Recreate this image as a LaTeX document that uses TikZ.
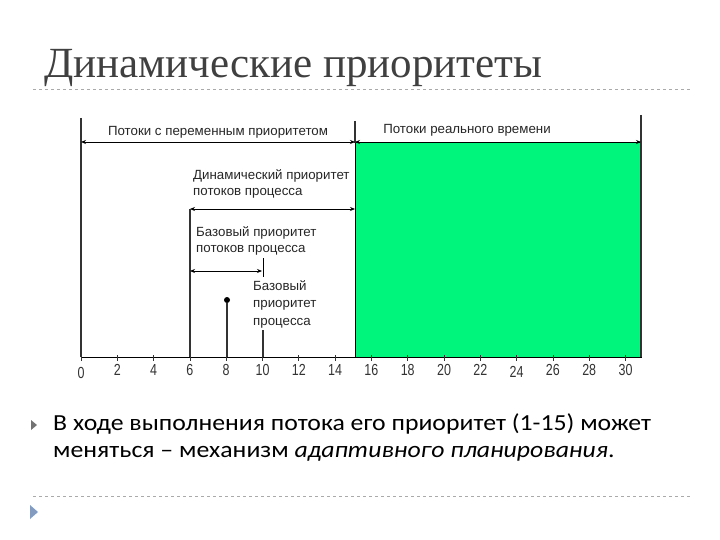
\documentclass[tikz,border=0pt]{standalone}
\usepackage{fontspec}
\setmainfont{Liberation Serif}
\newfontfamily\diagfont{Liberation Sans}
\newfontfamily\tickfont[FakeStretch=0.78]{Liberation Sans}
\newfontfamily\bodyfont[FakeStretch=1.12]{Carlito}
\usetikzlibrary{arrows.meta}
\definecolor{rtgreen}{RGB}{0,245,125}
\definecolor{titlegray}{RGB}{64,64,64}
\definecolor{dashgray}{RGB}{170,170,170}
\definecolor{bulletblue}{RGB}{130,155,190}
\tikzset{
  dimline/.style={line width=0.9pt, {Stealth[length=5pt,width=4pt]}-{Stealth[length=5pt,width=4pt]}},
  vline/.style={line width=1.3pt, draw=black!80},
  lbl/.style={font=\diagfont\fontsize{13.3}{16}\selectfont, inner sep=0pt, align=left, text=black!85},
  tick/.style={font=\tickfont\fontsize{16}{16}\selectfont, inner sep=0pt, text=black!80},
  sep/.style={draw=dashgray, dashed, line width=0.6pt},
  bullet/.style={fill=#1, draw=none}
}
\begin{document}
\begin{tikzpicture}[x=1pt,y=-1pt]
\useasboundingbox (0,0) rectangle (720,540);
% title
\node[anchor=base west, inner sep=0pt, text=titlegray, font=\fontsize{43}{46}\selectfont] (title) at (44,78) {Динамические приоритеты};
\coordinate (s1a) at (33,89); \coordinate (s1b) at (690,89);
\draw[sep] (s1a) -- (s1b);
% diagram
\coordinate (o) at (81,357);
\coordinate (axend) at (641,357);
\fill[rtgreen] (355,143) rectangle (641,357);
\draw[line width=1pt] (355,143) rectangle (641,357);
\draw[vline] (81,118) -- (o);
\draw[line width=1pt] (o) -- (axend);
\draw[vline] (641,115) -- (641,357);
\draw[vline] (355,121) -- (355,143);
% ticks and labels
\foreach \v in {0,2,...,30}{
  \draw[black!80, line width=0.8pt] ({81+18.15*\v},355) -- ({81+18.15*\v},361);
}
\foreach \v/\dy in {0/3,2/0,4/0,6/0,8/0,10/0,12/0,14/0,16/0,18/0,20/0,22/0,24/2,26/0,28/0,30/0}{
  \node[tick, anchor=base] (t\v) at ({81+18.15*\v},{375+\dy}) {\v};
}
% top arrows
\coordinate (a0) at (81,142); \coordinate (a15) at (355,142); \coordinate (a31) at (641,142);
\draw[dimline] (a0) -- (a15);
\draw[dimline] (a15) -- (a31);
\node[lbl, anchor=base] (l1) at (218,136) {Потоки с переменным приоритетом};
\node[lbl, anchor=base] (l2) at (467,134) {Потоки реального времени};
% dynamic priority
\node[lbl, anchor=base west] (l3) at (193,196) {Динамический приоритет\\потоков процесса};
\coordinate (d6) at (190,209); \coordinate (d15) at (355,209);
\draw[dimline] (d6) -- (d15);
\draw[vline] (d6) -- (190,357);
% base thread priority
\node[lbl, anchor=base west] (l4) at (196,252) {Базовый приоритет\\потоков процесса};
\coordinate (b6) at (190,271); \coordinate (b10) at (262,271);
\draw[dimline] (b6) -- (b10);
\draw[line width=0.9pt] (263,258) -- (263,277);
% base process priority
\node[lbl, anchor=base west, font=\diagfont\fontsize{13.3}{17.5}\selectfont] (l5) at (253,325) {Базовый\\приоритет\\процесса};
\node[circle, fill=black, inner sep=0pt, minimum size=6pt] (dot) at (227,300) {};
\draw[vline] (dot) -- (227,357);
\draw[vline] (263,330) -- (263,357);
% bullet text
\fill[bullet=black!55] (31,420) -- (37,425) -- (31,430) -- cycle;
\node[anchor=base west, inner sep=0pt, font=\bodyfont\fontsize{23}{27}\selectfont, align=left] (body) at (53,457) {В ходе выполнения потока его приоритет (1-15) может\\меняться – механизм \textit{адаптивного планирования}.};
\coordinate (s2a) at (33,496); \coordinate (s2b) at (690,496);
\draw[sep] (s2a) -- (s2b);
\fill[bullet=bulletblue] (30,505) -- (38,512) -- (30,519) -- cycle;
\end{tikzpicture}
\end{document}
